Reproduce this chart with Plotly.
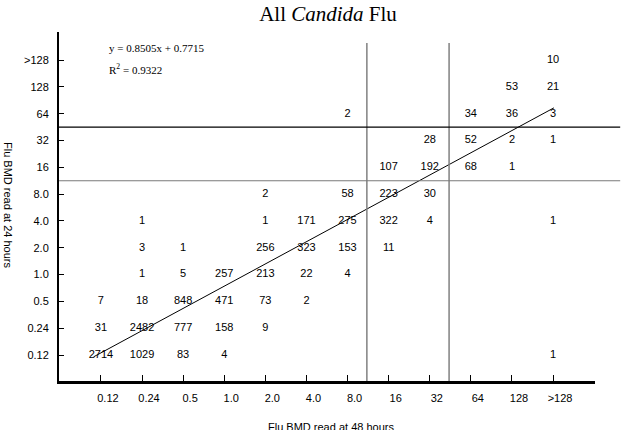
import plotly.graph_objects as go

# Category labels (same for both axes)
x_labels = ["0.12", "0.24", "0.5", "1.0", "2.0", "4.0", "8.0", "16", "32", "64", "128", ">128"]
y_labels = ["0.12", "0.24", "0.5", "1.0", "2.0", "4.0", "8.0", "16", "32", "64", "128", ">128"]

# Counts: one row per 24-hour MIC (bottom to top), columns = 48-hour MIC
row_012 = [2714, 1029, 83, 4, None, None, None, None, None, None, None, 1]
row_024 = [31, 2482, 777, 158, 9, None, None, None, None, None, None, None]
row_05 = [7, 18, 848, 471, 73, 2, None, None, None, None, None, None]
row_10 = [None, 1, 5, 257, 213, 22, 4, None, None, None, None, None]
row_20 = [None, 3, 1, None, 256, 323, 153, 11, None, None, None, None]
row_40 = [None, 1, None, None, 1, 171, 275, 322, 4, None, None, 1]
row_80 = [None, None, None, None, 2, None, 58, 223, 30, None, None, None]
row_16 = [None, None, None, None, None, None, None, 107, 192, 68, 1, None]
row_32 = [None, None, None, None, None, None, None, None, 28, 52, 2, 1]
row_64 = [None, None, None, None, None, None, 2, None, None, 34, 36, 3]
row_128 = [None, None, None, None, None, None, None, None, None, None, 53, 21]
row_gt128 = [None, None, None, None, None, None, None, None, None, None, None, 10]
rows = [row_012, row_024, row_05, row_10, row_20, row_40, row_80,
        row_16, row_32, row_64, row_128, row_gt128]

# Regression line endpoints (category index units)
trend_x = [-0.18, 11.02]
trend_y = [-0.07, 9.22]

# Breakpoint lines (between categories)
vbreaks = [6.47, 8.47]
hbreaks = [8.5, 6.5]
hbreak_colors = ["#000000", "#7a7a7a"]

xs, ys, ts = [], [], []
for yi, row in enumerate(rows):
    for xi, v in enumerate(row):
        if v is not None:
            xs.append(xi)
            ys.append(yi)
            ts.append(str(v))

fig = go.Figure()
fig.add_trace(go.Scatter(
    x=trend_x, y=trend_y, mode="lines",
    line=dict(color="black", width=1), hoverinfo="skip", showlegend=False))
fig.add_trace(go.Scatter(
    x=xs, y=ys, text=ts, mode="text",
    textfont=dict(family="Liberation Sans, Arial", size=11, color="black"),
    textposition="middle center", showlegend=False, cliponaxis=False))

shapes = []
for vb in vbreaks:
    shapes.append(dict(type="line", xref="x", yref="y", x0=vb, x1=vb, y0=-0.97, y1=11.64,
                       line=dict(color="#808080", width=1.5)))
for hb, c in zip(hbreaks, hbreak_colors):
    shapes.append(dict(type="line", xref="paper", yref="y", x0=0, x1=1.047, y0=hb, y1=hb,
                       line=dict(color=c, width=1.2)))

fig.update_layout(
    width=624, height=430,
    margin=dict(l=59, r=29, t=32, b=49),
    paper_bgcolor="white", plot_bgcolor="white",
    title=dict(text="All <i>Candida</i> Flu", x=(328 - 59) / 536, xref="paper",
               y=1 - 14 / 430, yref="container", yanchor="middle", xanchor="center",
               font=dict(family="Liberation Serif, Times New Roman, serif", size=21, color="black")),
    xaxis=dict(range=[-1.02, 12.02], tickmode="array", tickvals=list(range(12)),
               ticktext=x_labels, ticks="inside", ticklen=6, tickcolor="black", tickwidth=1,
               showline=True, linecolor="black", linewidth=2.5, showgrid=False, zeroline=False,
               ticklabelshift=7, ticklabelstandoff=5,
               tickfont=dict(family="Liberation Sans, Arial", size=11, color="black")),
    yaxis=dict(range=[-0.97, 12.05], tickmode="array", tickvals=list(range(12)),
               ticktext=y_labels, ticks="inside", ticklen=5, tickcolor="black", tickwidth=1,
               showline=True, linecolor="black", linewidth=2, showgrid=False, zeroline=False,
               ticklabelstandoff=6,
               tickfont=dict(family="Liberation Sans, Arial", size=11, color="black")),
    shapes=shapes,
    annotations=[
        dict(text="y = 0.8505x + 0.7715", xref="paper", yref="paper",
             x=(107 - 59) / 536, y=(381 - 48) / 349, xanchor="left", yanchor="middle",
             showarrow=False, font=dict(family="Liberation Serif, Times New Roman", size=11, color="black")),
        dict(text="R<sup>2</sup> = 0.9322", xref="paper", yref="paper",
             x=(107 - 59) / 536, y=(381 - 69) / 349, xanchor="left", yanchor="middle",
             showarrow=False, font=dict(family="Liberation Serif, Times New Roman", size=11, color="black")),
        dict(text="Flu BMD read at 24 hours", xref="paper", yref="paper",
             x=-(59 - 8) / 536, y=(381 - 205) / 349, xanchor="center", yanchor="middle",
             textangle=90, showarrow=False,
             font=dict(family="Liberation Sans, Arial", size=11, color="black")),
        dict(text="Flu BMD read at 48 hours", xref="paper", yref="paper",
             x=(331 - 59) / 536, y=-(427 - 381) / 349, xanchor="center", yanchor="middle",
             showarrow=False,
             font=dict(family="Liberation Sans, Arial", size=11, color="black")),
    ],
)

fig.write_html("out.html")
